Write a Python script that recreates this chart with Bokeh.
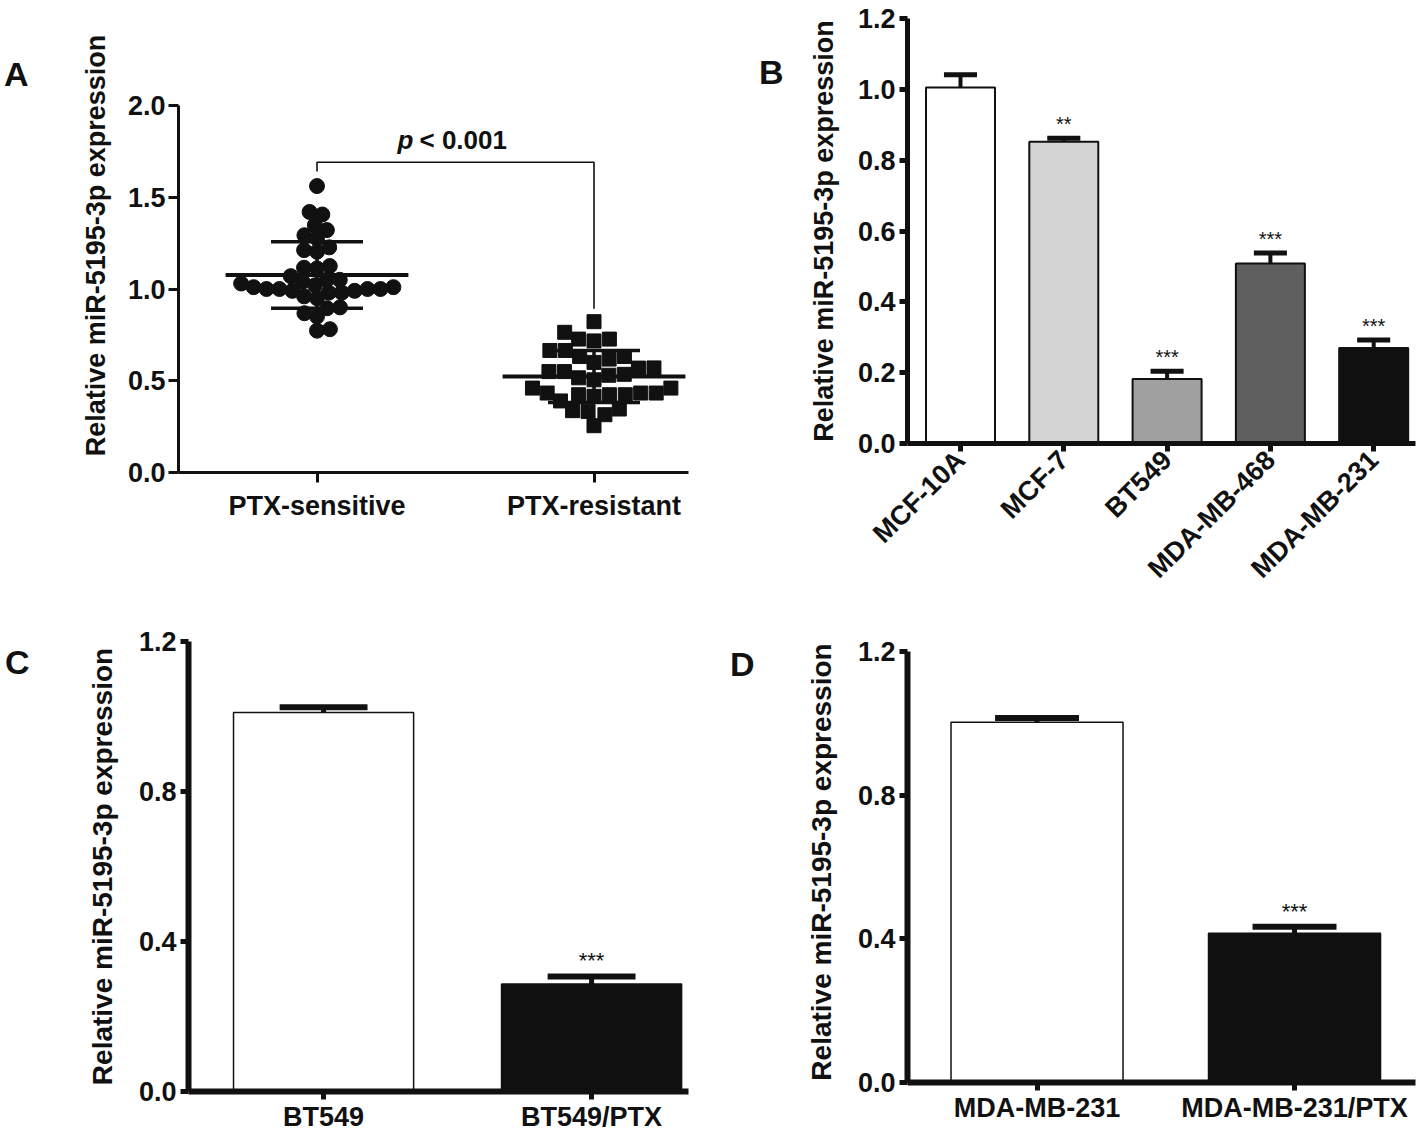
import math
import numpy as np
from bokeh.plotting import figure
from bokeh.layouts import column, row
from bokeh.models import FixedTicker, Label, Range1d, PrintfTickFormatter, Div
from bokeh.embed import file_html
from bokeh.resources import INLINE
from bokeh.core.properties import value

# ---------------- data ----------------
a_groups = ["PTX-sensitive", "PTX-resistant"]
a_sensitive = [1.561, 1.420, 1.406, 1.348, 1.321, 1.293, 1.275, 1.227, 1.212, 1.203,
               1.125, 1.116, 1.112,
               1.05, 1.04, 1.02, 1.01, 1.00, 1.00, 0.99, 0.98, 0.95,
               0.96, 0.98, 0.99, 1.00, 1.00, 1.01, 1.03, 1.05, 1.07,
               0.900, 0.895, 0.868, 0.850, 0.781, 0.773]
a_resistant = [0.822, 0.764, 0.727, 0.717, 0.727, 0.665, 0.665, 0.632, 0.632,
               0.618, 0.569, 0.550, 0.535, 0.516, 0.530, 0.550, 0.570, 0.600,
               0.505,
               0.460, 0.433, 0.433, 0.424, 0.415, 0.390, 0.424, 0.424, 0.433, 0.460,
               0.346, 0.333, 0.315, 0.337,
               0.255]
a_yticks = [0.0, 0.5, 1.0, 1.5, 2.0]
a_pvalue = "< 0.001"

b_lines = ["MCF-10A", "MCF-7", "BT549", "MDA-MB-468", "MDA-MB-231"]
b_means = [1.005, 0.852, 0.182, 0.508, 0.270]
b_err = [0.036, 0.010, 0.022, 0.030, 0.022]
b_sig = ["", "**", "***", "***", "***"]
b_colors = ["#ffffff", "#d4d4d4", "#a0a0a0", "#5f5f5f", "#101010"]
b_yticks = [0.0, 0.2, 0.4, 0.6, 0.8, 1.0, 1.2]

c_lines = ["BT549", "BT549/PTX"]
c_means = [1.011, 0.287]
c_err = [0.014, 0.020]
c_sig = ["", "***"]

d_lines = ["MDA-MB-231", "MDA-MB-231/PTX"]
d_means = [1.003, 0.4155]
d_err = [0.012, 0.018]
d_sig = ["", "***"]

cd_colors = ["#ffffff", "#101010"]
cd_yticks = [0.0, 0.4, 0.8, 1.2]

panel_letters = ["A", "B", "C", "D"]

YLABEL = "Relative miR-5195-3p expression"
FONT = "Liberation Sans"
INK = "#111111"


# ---------------- helpers ----------------
def make_fig(g):
    p = figure(frame_width=g["fw"], frame_height=g["fh"],
               min_border_left=g["fl"], min_border_top=g["ft"],
               min_border_right=g["W"] - g["fl"] - g["fw"],
               min_border_bottom=g["H"] - g["ft"] - g["fh"],
               x_range=Range1d(g["x0"], g["x1"]), y_range=Range1d(g["y0"], g["y1"]),
               output_backend="svg", toolbar_location=None)
    p.outline_line_color = None
    p.grid.visible = False
    p.background_fill_color = "white"
    p.border_fill_color = "white"
    for ax in (p.xaxis[0], p.yaxis[0]):
        ax.axis_line_color = INK
        ax.major_tick_line_color = INK
        ax.minor_tick_line_color = None
        ax.major_tick_in = 0
        ax.major_label_text_font = FONT
        ax.major_label_text_font_style = "bold"
        ax.major_label_text_color = INK
        ax.axis_label_text_font = FONT
        ax.axis_label_text_font_style = "bold"
        ax.axis_label_text_color = INK
    return p


def px2data(g, X, Y):
    lx = X - g["ox"]
    ly = Y - g["oy"]
    x = g["x0"] + (lx - g["fl"]) / g["fw"] * (g["x1"] - g["x0"])
    y = g["y1"] - (ly - g["ft"]) / g["fh"] * (g["y1"] - g["y0"])
    return x, y


def letter_div(txt, width, height, pad_left, pad_top):
    html = ('<div style="padding-left:%dpx;padding-top:%dpx;font-family:\'Liberation Sans\';'
            'font-weight:bold;font-size:34px;line-height:34px;color:#111111;">%s</div>'
            % (pad_left, pad_top, txt))
    return Div(text=html, width=width, height=height, margin=0)


def swarm_offsets(vals, d, ppu):
    vals = np.asarray(vals, float)
    order = np.argsort(vals, kind="stable")
    px_l, py_l = [], []
    out = np.zeros(len(vals))
    side = 1
    for i in order:
        y = vals[i] * ppu
        cands = [0.0]
        for px, py in zip(px_l, py_l):
            dy = abs(py - y)
            if dy < d:
                dx = math.sqrt(d * d - dy * dy)
                cands.extend([px + dx, px - dx])
        best = 0.0
        for c in sorted(cands, key=lambda c: (round(abs(c), 2), -side * c)):
            if all((c - px) ** 2 + (y - py) ** 2 >= d * d - 1e-6 for px, py in zip(px_l, py_l)):
                best = c
                break
        out[i] = best
        px_l.append(best)
        py_l.append(y)
        if best != 0:
            side = -side
    return out


def bar_panel(p, names, means, errs, sigs, colors, bar_w, cap_w, outline_w, cap_lw, star_size):
    xs = list(range(1, len(names) + 1))
    p.vbar(x=xs, top=means, width=bar_w, bottom=0, fill_color=colors,
           line_color=INK, line_width=outline_w)
    tops = [m + e for m, e in zip(means, errs)]
    p.segment(x0=xs, y0=means, x1=xs, y1=tops, line_color=INK, line_width=cap_lw - 1)
    p.segment(x0=[x - cap_w / 2 for x in xs], y0=tops, x1=[x + cap_w / 2 for x in xs], y1=tops,
              line_color=INK, line_width=cap_lw)
    p.text(x=xs, y=tops, text=sigs, text_align="center", text_baseline="bottom",
           y_offset=-3, text_font=value(FONT), text_font_size=star_size, text_color=INK)
    p.xaxis.ticker = FixedTicker(ticks=xs)
    p.xaxis.major_label_overrides = {x: n for x, n in zip(xs, names)}


TOP1 = 18  # shared frame top of the first row

# ---------------- panel A ----------------
A_PPU = 183.5
gA = dict(ox=40, oy=0, W=669, H=600, fl=138, ft=TOP1, fw=510, fh=472 - TOP1,
          x0=0.5, x1=0.5 + 510 / 277.0, y0=0.0, y1=2.0 + (105 - TOP1) / A_PPU)
pA = make_fig(gA)
ppu_y = gA["fh"] / (gA["y1"] - gA["y0"])
ppu_x = gA["fw"] / (gA["x1"] - gA["x0"])

off_s = swarm_offsets(a_sensitive, 13.0, ppu_y) / ppu_x
off_r = swarm_offsets(a_resistant, 15.5, ppu_y) / ppu_x
pA.scatter(x=1 + off_s, y=a_sensitive, marker="circle", size=15, fill_color=INK, line_color=INK)
pA.scatter(x=2 + off_r, y=a_resistant, marker="square", size=14, fill_color=INK, line_color=INK)

for gx, vals in ((1, a_sensitive), (2, a_resistant)):
    m = float(np.mean(vals))
    sd = float(np.std(vals, ddof=1))
    pA.segment(x0=[gx - 0.33], y0=[m], x1=[gx + 0.33], y1=[m], line_color=INK, line_width=4)
    pA.segment(x0=[gx - 0.166, gx - 0.166], y0=[m - sd, m + sd], x1=[gx + 0.166, gx + 0.166],
               y1=[m - sd, m + sd], line_color=INK, line_width=3.5)
    pA.segment(x0=[gx], y0=[m - sd], x1=[gx], y1=[m + sd], line_color=INK, line_width=3.5)

top_br = max(a_sensitive) + 0.13
pA.line(x=[1, 1, 2, 2], y=[max(a_sensitive) + 0.08, top_br, top_br, max(a_resistant) + 0.07],
        line_color=INK, line_width=1.6)
px_, py_ = px2data(gA, 416, 139)
pA.add_layout(Label(x=px_, y=py_, text="p", text_font=FONT, text_font_style="bold italic",
                    text_font_size="26px", text_align="right", text_baseline="middle",
                    text_color=INK, x_offset=-3))
pA.add_layout(Label(x=px_, y=py_, text=a_pvalue, text_font=FONT, text_font_style="bold",
                    text_font_size="26px", text_align="left", text_baseline="middle",
                    text_color=INK, x_offset=3))

pA.yaxis.ticker = FixedTicker(ticks=a_yticks)
pA.yaxis.bounds = (a_yticks[0], a_yticks[-1])
pA.yaxis.formatter = PrintfTickFormatter(format="%.1f")
pA.xaxis.ticker = FixedTicker(ticks=[1, 2])
pA.xaxis.major_label_overrides = {1: a_groups[0], 2: a_groups[1]}
pA.yaxis.axis_label = YLABEL
for ax in (pA.xaxis[0], pA.yaxis[0]):
    ax.axis_line_width = 3
    ax.major_tick_line_width = 3
    ax.major_tick_out = 10
    ax.major_label_text_font_size = "27px"
    ax.axis_label_text_font_size = "27px"
pA.yaxis.major_label_standoff = 3
pA.yaxis.axis_label_standoff = 14
pA.xaxis.major_label_standoff = 8

# ---------------- panel B ----------------
gB = dict(ox=789, oy=0, W=627, H=600, fl=118, ft=TOP1, fw=508, fh=443 - TOP1,
          x0=0.487, x1=0.487 + 508 / 103.3, y0=0.0, y1=1.2)
pB = make_fig(gB)
bar_panel(pB, b_lines, b_means, b_err, b_sig, b_colors, 0.668, 0.32, 2, 5, "20px")
pB.yaxis.ticker = FixedTicker(ticks=b_yticks)
pB.yaxis.formatter = PrintfTickFormatter(format="%.1f")
pB.yaxis.axis_label = YLABEL
for ax in (pB.xaxis[0], pB.yaxis[0]):
    ax.axis_line_width = 5
    ax.major_tick_line_width = 5
    ax.major_tick_out = 8
    ax.major_label_text_font_size = "27px"
    ax.axis_label_text_font_size = "27px"
pB.yaxis.major_label_standoff = 4
pB.yaxis.axis_label_standoff = 16
pB.xaxis.major_label_orientation = math.pi / 4
pB.xaxis.major_label_standoff = 4

# ---------------- panel C ----------------
gC = dict(ox=40, oy=600, W=669, H=530, fl=148, ft=41, fw=500, fh=450,
          x0=0.496, x1=0.496 + 500 / 268.0, y0=0.0, y1=1.2)
pC = make_fig(gC)
bar_panel(pC, c_lines, c_means, c_err, c_sig, cd_colors, 0.672, 0.328, 1.5, 6, "22px")

# ---------------- panel D ----------------
D_PPU = 359.3
gD = dict(ox=789, oy=600, W=627, H=530, fl=118, ft=41, fw=508, fh=441,
          x0=0.497, x1=0.497 + 508 / 257.5, y0=0.0, y1=1.2 + 10 / D_PPU)
pD = make_fig(gD)
bar_panel(pD, d_lines, d_means, d_err, d_sig, cd_colors, 0.668, 0.326, 1.5, 6, "22px")

for p in (pC, pD):
    p.yaxis.ticker = FixedTicker(ticks=cd_yticks)
    p.yaxis.bounds = (cd_yticks[0], cd_yticks[-1])
    p.yaxis.formatter = PrintfTickFormatter(format="%.1f")
    p.yaxis.axis_label = YLABEL
    for ax in (p.xaxis[0], p.yaxis[0]):
        ax.axis_line_width = 6
        ax.major_tick_line_width = 5
        ax.major_tick_out = 8
        ax.major_label_text_font_size = "27px"
        ax.axis_label_text_font_size = "28px"
    p.yaxis.major_label_standoff = 4
    p.yaxis.axis_label_standoff = 18
    p.xaxis.major_label_standoff = 2

dA = letter_div(panel_letters[0], 40, 600, 4, 57)
dB = letter_div(panel_letters[1], 80, 600, 50, 55)
dC = letter_div(panel_letters[2], 40, 530, 5, 45)
dD = letter_div(panel_letters[3], 80, 530, 21, 47)

layout = column(row(dA, pA, dB, pB), row(dC, pC, dD, pD))
open("out.html", "w").write(file_html(layout, INLINE))
